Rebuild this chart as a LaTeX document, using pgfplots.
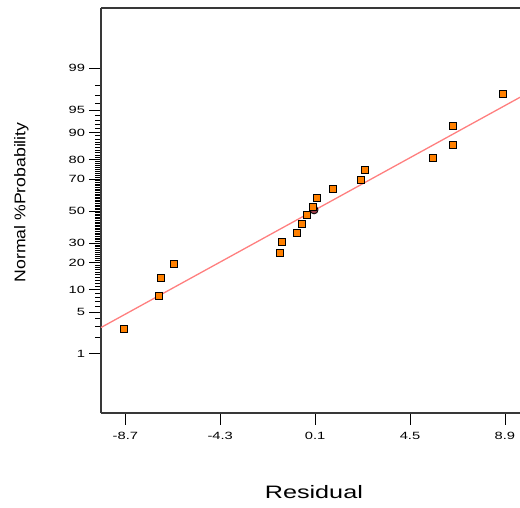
\documentclass[border=0pt]{standalone}
\usepackage{pgfplots}
\pgfplotsset{compat=1.18}
\usepackage{fontspec}
\setmainfont{Liberation Sans}
\newfontfamily\widesans{Liberation Sans}[FakeStretch=1.4]
\newfontfamily\labelsans{Liberation Sans}[FakeStretch=1.14]

\definecolor{ptorange}{HTML}{FF8000}
\definecolor{fitline}{HTML}{FF7F7F}
\definecolor{axisgray}{HTML}{383838}
\definecolor{centermark}{HTML}{9A3B4A}

\begin{document}
\begin{tikzpicture}
\path[use as bounding box] (0pt,0pt) rectangle (520pt,507pt);
\begin{axis}[
  at={(101pt,94pt)}, anchor=south west,
  scale only axis, width=419pt, height=405pt,
  xmin=-9.83, xmax=9.6,
  ymin=-3.29, ymax=3.31,
  axis x line=box, axis y line*=left,
  axis line style={axisgray, line width=1.2pt},
  xtick pos=bottom, ytick pos=left,
  tick align=outside,
  major tick length=11.5pt, minor tick length=5.5pt,
  every major tick/.style={black, line width=0.8pt},
  every minor tick/.style={black, line width=0.8pt},
  xtick={-8.7,-4.3,0.1,4.5,8.9},
  xticklabels={-8.7,-4.3,0.1,4.5,8.9},
  % normal-probability scale: ticks at the standard normal quantiles
  ytick={-2.3263,-1.6449,-1.2816,-0.8416,-0.5244,0,0.5244,0.8416,1.2816,1.6449,2.3263},
  yticklabels={1,5,10,20,30,50,70,80,90,95,99},
  minor ytick={-2.0537,-1.8808,-1.7507,-1.5548,-1.4758,-1.4051,-1.3408,
    -1.2265,-1.1750,-1.1264,-1.0803,-1.0364,-0.9945,-0.9542,-0.9154,-0.8779,
    -0.8064,-0.7722,-0.7388,-0.7063,-0.6745,-0.6433,-0.6128,-0.5828,-0.5534,
    -0.4959,-0.4677,-0.4399,-0.4125,-0.3853,-0.3585,-0.3319,-0.3055,-0.2793,-0.2533,
    -0.2275,-0.2019,-0.1764,-0.1510,-0.1257,-0.1004,-0.0753,-0.0502,-0.0251,
    0.0251,0.0502,0.0753,0.1004,0.1257,0.1510,0.1764,0.2019,0.2275,
    0.2533,0.2793,0.3055,0.3319,0.3585,0.3853,0.4125,0.4399,0.4677,0.4959,
    0.5534,0.5828,0.6128,0.6433,0.6745,0.7063,0.7388,0.7722,0.8064,
    0.8779,0.9154,0.9542,0.9945,1.0364,1.0803,1.1264,1.1750,1.2265,
    1.3408,1.4051,1.4758,1.5548,1.7507,1.8808,2.0537},
  tick label style={font=\widesans\fontsize{10.5}{12}\selectfont},
  xticklabel style={yshift=-4pt},
  yticklabel style={xshift=-1pt},
  xlabel={Residual},
  xlabel style={font=\widesans\fontsize{18}{21}\selectfont,
    at={(axis description cs:0.508,-0.21)}, anchor=base},
  ylabel={Normal \%Probability},
  ylabel style={font=\labelsans\fontsize{15.5}{18}\selectfont,
    at={(axis description cs:-0.19,0.52)}, anchor=center},
  clip=false,
]
% fitted normal line
\addplot[fitline, line width=1.3pt] coordinates {(-9.83,-1.897) (9.6,1.855)};
% centre marker
\addplot[only marks, mark=*, mark size=4pt,
  mark options={fill=centermark, draw=black, line width=0.8pt}]
  coordinates {(0.05,0.02)};
% residuals against normal quantiles
\addplot[only marks, mark=square*, mark size=3.5pt,
  mark options={fill=ptorange, draw=black, line width=0.9pt}]
  table {
  x      z
  -8.77 -1.9145
  -7.16 -1.3830
  -7.05 -1.0853
  -6.46 -0.8616
  -1.54 -0.6745
  -1.44 -0.5085
  -0.75 -0.3549
  -0.50 -0.2104
  -0.28 -0.0697
  -0.01  0.0697
   0.18  0.2104
   0.92  0.3549
   2.23  0.5085
   2.40  0.6745
   5.54  0.8616
   6.47  1.0853
   6.50  1.3830
   8.83  1.9145
  };
\end{axis}
\end{tikzpicture}
\end{document}
